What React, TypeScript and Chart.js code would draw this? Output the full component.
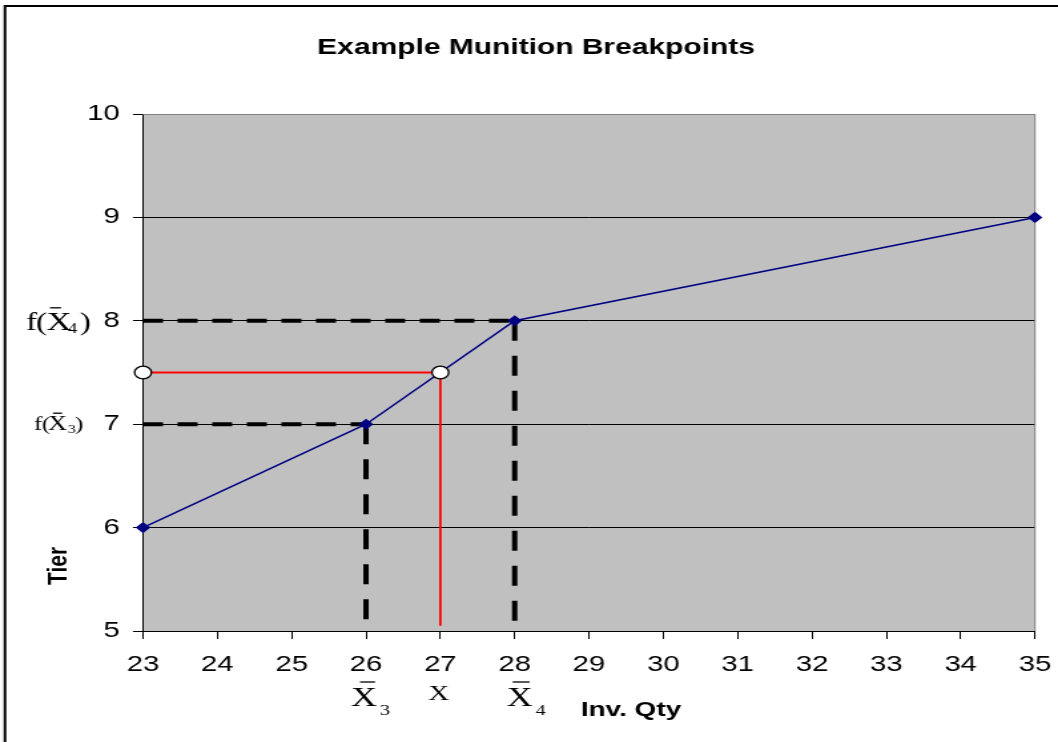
import React, { useEffect, useRef } from "react";
import { Chart, registerables } from "chart.js";

Chart.register(...registerables);

// The reference picture is horizontally stretched; draw at a narrower
// internal width and let CSS stretch the canvas to the page width.
const PAGE_W = 1058;
const PAGE_H = 742;
const CANVAS_W = 795;
const S = PAGE_W / CANVAS_W;

const chartTitle = "Example Munition Breakpoints";
const xAxisTitle = "Inv. Qty";
const yAxisTitle = "Tier";

const invQty = [23, 26, 28, 35];
const tierValues = [6, 7, 8, 9];

const xMin = 23;
const xMax = 35;
const yMin = 5;
const yMax = 10;

const breakX3 = 26;
const fX3 = 7;
const breakX4 = 28;
const fX4 = 8;
const sampleX = 27;
const sampleF = 7.5;
const redEndY = 5.05;

const SANS = '"Liberation Sans", Arial, sans-serif';
const SERIF = '"Liberation Serif", "Times New Roman", serif';

function pts(xs: number[], ys: number[]) {
  return xs.map((x, i) => ({ x, y: ys[i] }));
}

function drawXBar(
  ctx: CanvasRenderingContext2D,
  xRef: number,
  base: number,
  size: number,
  barFrom: number,
  barTo: number,
  barY: number,
  sub: string | null,
  subX: number,
  subBase: number,
  subSize: number
) {
  ctx.font = `${size}px ${SERIF}`;
  ctx.fillText("X", xRef / S, base);
  if (barTo > barFrom) {
    ctx.beginPath();
    ctx.lineWidth = 1.3;
    ctx.strokeStyle = "#000";
    ctx.moveTo(barFrom / S, barY);
    ctx.lineTo(barTo / S, barY);
    ctx.stroke();
  }
  if (sub) {
    ctx.font = `${subSize}px ${SERIF}`;
    ctx.fillText(sub, subX / S, subBase);
  }
}

const decorPlugin = {
  id: "decor",
  beforeDraw(chart: any) {
    const { ctx, chartArea } = chart;
    ctx.save();
    ctx.fillStyle = "#ffffff";
    ctx.fillRect(0, 0, chart.width, chart.height);
    // outer frame (top and left visible)
    ctx.strokeStyle = "#000";
    ctx.lineWidth = 2;
    ctx.beginPath();
    ctx.moveTo(5 / S, chart.height);
    ctx.lineTo(5 / S, 6);
    ctx.lineTo(chart.width, 6);
    ctx.stroke();
    // plot area
    ctx.fillStyle = "#c0c0c0";
    ctx.fillRect(
      chartArea.left,
      chartArea.top,
      chartArea.right - chartArea.left,
      chartArea.bottom - chartArea.top
    );
    ctx.restore();
  },
  beforeDatasetsDraw(chart: any) {
    const { ctx, chartArea } = chart;
    ctx.save();
    ctx.strokeStyle = "#808080";
    ctx.lineWidth = 1;
    ctx.beginPath();
    ctx.moveTo(chartArea.left, chartArea.top + 0.5);
    ctx.lineTo(chartArea.right, chartArea.top + 0.5);
    ctx.lineTo(chartArea.right, chartArea.bottom);
    ctx.stroke();
    ctx.restore();
  },
  afterDraw(chart: any) {
    const { ctx } = chart;
    const xs = chart.scales.x;
    const ys = chart.scales.y;
    ctx.save();
    ctx.fillStyle = "#000";
    ctx.textBaseline = "alphabetic";
    ctx.textAlign = "left";

    // title
    ctx.font = `bold 22.5px ${SANS}`;
    ctx.textAlign = "center";
    ctx.fillText(chartTitle, 536 / S, 54);

    // x axis title
    ctx.font = `bold 21px ${SANS}`;
    ctx.fillText(xAxisTitle, 631 / S, 716);

    // y axis title
    ctx.save();
    ctx.translate(58.5 / S, 566);
    ctx.rotate(-Math.PI / 2);
    ctx.font = `bold 21px ${SANS}`;
    ctx.textBaseline = "middle";
    ctx.fillText(yAxisTitle, 0, 0);
    ctx.restore();

    ctx.textAlign = "left";

    // f(X4) label at y = fX4
    const b4 = ys.getPixelForValue(fX4) + 9;
    ctx.font = `25px ${SERIF}`;
    ctx.fillText("f", 26 / S, b4);
    ctx.fillText("(", 36 / S, b4);
    drawXBar(ctx, 46.5, b4, 26, 50, 61, b4 - 22, "4", 68, b4 + 3, 14);
    ctx.font = `25px ${SERIF}`;
    ctx.fillText(")", 80 / S, b4);

    // f(X3) label at y = fX3
    const b3 = ys.getPixelForValue(fX3) + 6;
    ctx.font = `19px ${SERIF}`;
    ctx.fillText("f", 34 / S, b3);
    ctx.fillText("(", 42 / S, b3);
    drawXBar(ctx, 48, b3, 20, 53, 62, b3 - 17, "3", 68, b3 + 3, 12);
    ctx.font = `19px ${SERIF}`;
    ctx.fillText(")", 75 / S, b3);

    // labels under the x axis
    const p3 = xs.getPixelForValue(breakX3) * S;
    drawXBar(ctx, p3 - 15, 706, 27, p3 - 6, p3 + 9, 682, "3", p3 + 14, 715, 15);
    const pX = xs.getPixelForValue(sampleX) * S;
    drawXBar(ctx, pX - 12, 700, 22, 0, 0, 0, null, 0, 0, 0);
    const p4 = xs.getPixelForValue(breakX4) * S;
    drawXBar(ctx, p4 - 8, 706, 27, p4 - 2, p4 + 15, 682, "4", p4 + 21, 715, 15);

    ctx.restore();
  },
};

export default function App() {
  const ref = useRef<HTMLCanvasElement | null>(null);

  useEffect(() => {
    document.body.style.margin = "0";
    const canvas = ref.current;
    if (!canvas) return;

    const plotLeft = 143 / S;
    const plotRight = 1035 / S;
    const plotTop = 114;
    const plotBottom = 631;
    const yAxisW = 60;
    const xAxisH = 60;

    const dashed = (data: any[], dash: number[]) => ({
      data,
      showLine: true,
      borderColor: "#000",
      borderWidth: 4,
      borderDash: dash,
      pointRadius: 0,
      clip: false,
    });

    const chart = new Chart(canvas, {
      type: "scatter",
      data: {
        datasets: [
          {
            data: pts([xMin, sampleX], [sampleF, sampleF]),
            showLine: false,
            pointStyle: "circle",
            pointRadius: 6.3,
            backgroundColor: "#ffffff",
            borderColor: "#000",
            borderWidth: 1.3,
            clip: false,
          } as any,
          {
            data: pts(invQty, tierValues),
            showLine: true,
            borderColor: "#000080",
            borderWidth: 1.5,
            pointStyle: "rectRot",
            pointRadius: 4.5,
            backgroundColor: "#000080",
            pointBorderColor: "#000080",
            clip: false,
          } as any,
          {
            data: pts([xMin, sampleX, sampleX], [sampleF, sampleF, redEndY]),
            showLine: true,
            borderColor: "#ff0000",
            borderWidth: 1.8,
            pointRadius: 0,
            clip: false,
          } as any,
          dashed(pts([xMin, breakX4], [fX4, fX4]), [15, 11]) as any,
          dashed(pts([breakX4, breakX4], [fX4, yMin]), [20, 15]) as any,
          dashed(pts([xMin, breakX3], [fX3, fX3]), [15, 11]) as any,
          dashed(pts([breakX3, breakX3], [fX3, yMin]), [20, 15]) as any,
        ],
      },
      options: {
        responsive: false,
        devicePixelRatio: 1,
        animation: false,
        events: [],
        layout: {
          autoPadding: false,
          padding: {
            top: plotTop,
            left: plotLeft - yAxisW,
            right: CANVAS_W - plotRight,
            bottom: PAGE_H - plotBottom - xAxisH,
          },
        },
        plugins: {
          legend: { display: false },
          tooltip: { enabled: false },
          title: { display: false },
        },
        scales: {
          x: {
            type: "linear",
            position: "bottom",
            min: xMin,
            max: xMax,
            afterFit: (s: any) => {
              s.height = xAxisH;
            },
            ticks: {
              stepSize: 1,
              autoSkip: false,
              maxRotation: 0,
              color: "#000",
              padding: 0,
              font: { family: SANS, size: 22, lineHeight: 52 / 22 },
            },
            grid: {
              drawOnChartArea: false,
              drawTicks: true,
              tickLength: 8,
              color: "#000",
              lineWidth: 1,
            },
            border: { display: true, color: "#000", width: 1 },
          },
          y: {
            type: "linear",
            min: yMin,
            max: yMax,
            afterFit: (s: any) => {
              s.width = yAxisW;
            },
            ticks: {
              stepSize: 1,
              color: "#000",
              padding: 10,
              font: { family: SANS, size: 22 },
            },
            grid: {
              color: (c: any) =>
                c.tick && c.tick.value === yMax ? "#808080" : "#000",
              tickColor: "#000",
              tickLength: 7.5,
              lineWidth: 1,
            },
            border: { display: true, color: "#000", width: 1 },
          },
        },
      } as any,
      plugins: [decorPlugin],
    });

    return () => chart.destroy();
  }, []);

  return (
    <div style={{ width: PAGE_W, height: PAGE_H }}>
      <canvas
        ref={ref}
        width={CANVAS_W}
        height={PAGE_H}
        style={{ width: PAGE_W + "px", height: PAGE_H + "px", display: "block" }}
      />
    </div>
  );
}
